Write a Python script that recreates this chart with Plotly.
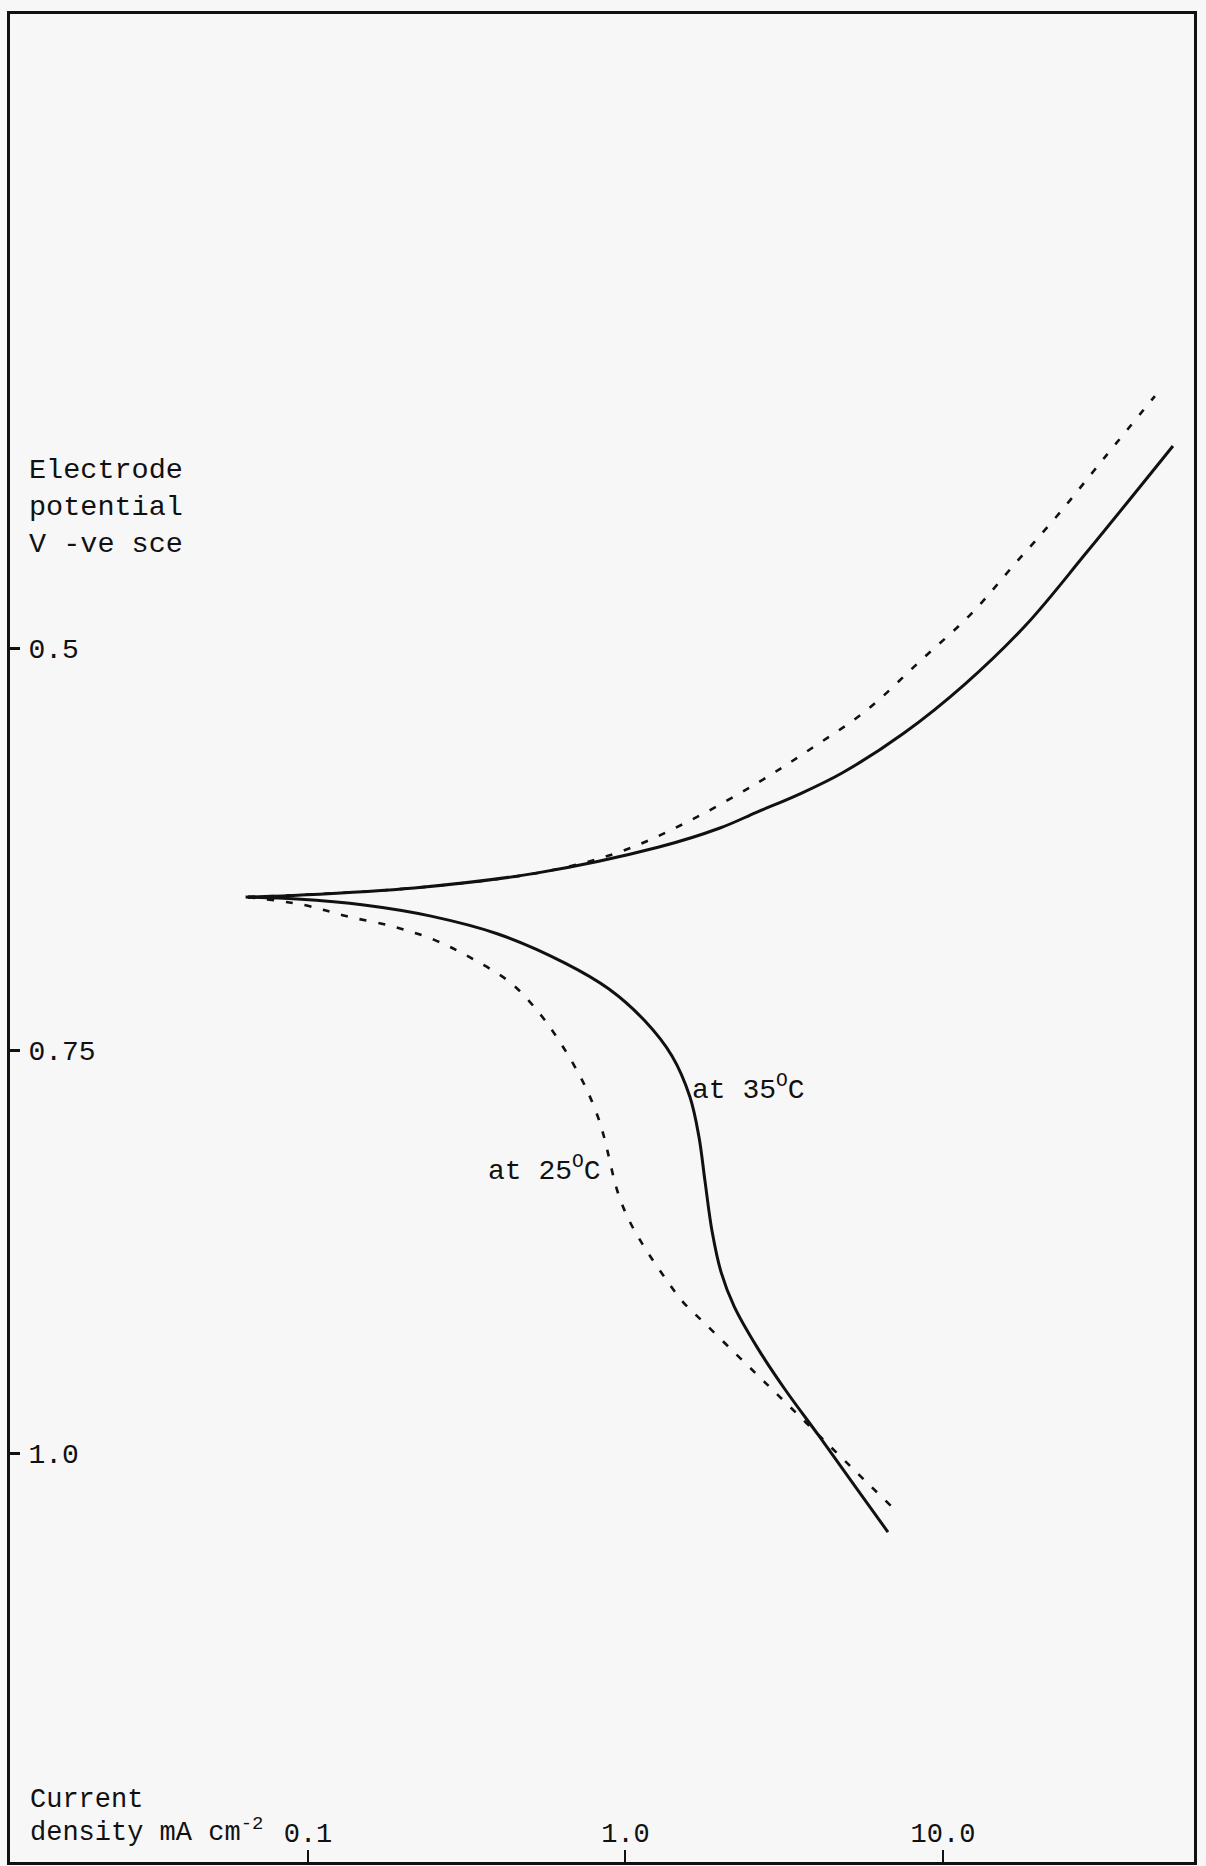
import plotly.graph_objects as go

# ---- data (current density mA cm^-2, potential V -ve sce) ----
i_35_anodic = [0.0647, 0.0884, 0.216, 0.523, 1.275, 1.984, 2.596, 3.532, 4.81, 7.54, 11.73, 18.25, 28.4, 53.0]
E_35_anodic = [0.6547, 0.6537, 0.649, 0.6398, 0.6236, 0.6118, 0.6019, 0.5907, 0.5776, 0.5528, 0.5224,
               0.4857, 0.4404, 0.3745]

i_35_cathodic = [0.0636, 0.0924, 0.150, 0.244, 0.3966, 0.645, 0.887, 1.152, 1.401, 1.596, 1.704,
                 1.780, 1.873, 2.000, 2.197, 2.596, 3.157, 4.069, 5.28, 6.71]
E_35_cathodic = [0.6547, 0.6559, 0.6596, 0.6665, 0.6776, 0.6957, 0.7118, 0.7317, 0.7534, 0.7789, 0.8037,
                 0.8311, 0.8621, 0.8876, 0.9087, 0.9342, 0.9596, 0.9894, 1.0205, 1.0491]

i_25_anodic = [0.0647, 0.216, 0.570, 0.975, 1.585, 2.596, 3.868, 5.76, 8.47, 12.25, 16.73, 22.86, 32.37, 46.5]
E_25_anodic = [0.6547, 0.649, 0.6385, 0.6261, 0.6075, 0.5839, 0.5621, 0.5385, 0.5081, 0.4789, 0.4484,
               0.418, 0.3814, 0.3435]

i_25_cathodic = [0.0647, 0.0971, 0.1317, 0.188, 0.251, 0.326, 0.436, 0.538, 0.613, 0.688, 0.756, 0.819,
                 0.856, 0.947, 1.033, 1.152, 1.313, 1.518, 1.780, 2.197, 2.634, 3.044, 4.81, 5.64, 6.86]
E_25_cathodic = [0.6547, 0.6596, 0.6665, 0.6733, 0.6814, 0.6925, 0.7081, 0.7273, 0.7429, 0.759, 0.7745,
                 0.7913, 0.8037, 0.8385, 0.8565, 0.8727, 0.8894, 0.9062, 0.9196, 0.9373, 0.9525,
                 0.9646, 1.0031, 1.0165, 1.0329]

x_tickvals = [0.1, 1.0, 10.0]
x_ticktext = ["0.1", "1.0", "10.0"]
y_tickvals = [0.5, 0.75, 1.0]
y_ticktext = ["0.5", "0.75", "1.0"]

FONT = "Liberation Mono, DejaVu Sans Mono, monospace"
INK = "#111111"
BG = "#f7f7f7"

fig = go.Figure()
solid = dict(color=INK, width=3, shape="spline", smoothing=1.0)
dashed = dict(color=INK, width=2.6, shape="spline", smoothing=1.0, dash="7px,12px")

fig.add_trace(go.Scatter(x=i_35_anodic, y=E_35_anodic, mode="lines", line=solid, name="35 anodic"))
fig.add_trace(go.Scatter(x=i_35_cathodic, y=E_35_cathodic, mode="lines", line=solid, name="35 cathodic"))
fig.add_trace(go.Scatter(x=i_25_anodic, y=E_25_anodic, mode="lines", line=dashed, name="25 anodic"))
fig.add_trace(go.Scatter(x=i_25_cathodic, y=E_25_cathodic, mode="lines", line=dashed, name="25 cathodic"))

fig.update_layout(
    width=1206, height=1866,
    margin=dict(l=10, r=12, t=14, b=4),
    paper_bgcolor=BG, plot_bgcolor=BG,
    showlegend=False,
    font=dict(family=FONT, color=INK, size=27),
)

fig.update_xaxes(
    type="log", range=[-1.9386, 1.7906],
    tickvals=x_tickvals, ticktext=x_ticktext,
    ticks="inside", ticklen=12, tickwidth=2, tickcolor=INK,
    ticklabelposition="inside", ticklabelstandoff=5,
    tickfont=dict(family=FONT, size=27, color=INK),
    showline=True, linewidth=3, linecolor=INK, mirror=True,
    showgrid=False, zeroline=False,
)
fig.update_yaxes(
    range=[1.254, 0.1062],
    tickvals=y_tickvals, ticktext=y_ticktext,
    ticks="inside", ticklen=10, tickwidth=3, tickcolor=INK,
    ticklabelposition="inside", ticklabelstandoff=11,
    tickfont=dict(family=FONT, size=28, color=INK),
    showline=True, linewidth=3, linecolor=INK, mirror=True,
    showgrid=False, zeroline=False,
)

def px_x(p):
    return (p - 10) / 1184.0

def px_y(p):
    return (1862 - p) / 1848.0

ann = [
    dict(text="Electrode<br>potential<br>V -ve sce", x=px_x(27), y=px_y(508), size=28.5),
    dict(text="at 35<sup>O</sup>C", x=px_x(690), y=px_y(1088), size=28),
    dict(text="at 25<sup>O</sup>C", x=px_x(486), y=px_y(1169), size=28),
    dict(text="Current", x=px_x(28), y=px_y(1800), size=27),
    dict(text="density mA cm<sup>-2</sup>", x=px_x(28), y=px_y(1830), size=27),
]
for a in ann:
    fig.add_annotation(
        text=a["text"], xref="paper", yref="paper", x=a["x"], y=a["y"],
        xanchor="left", yanchor="middle", showarrow=False, align="left",
        font=dict(family=FONT, size=a["size"], color=INK),
    )

fig.write_html(
    "out.html",
    config={"displayModeBar": False},
    post_script="document.body.style.margin='0';document.body.style.padding='0';"
                "document.documentElement.style.overflow='hidden';document.body.style.overflow='hidden';",
)
